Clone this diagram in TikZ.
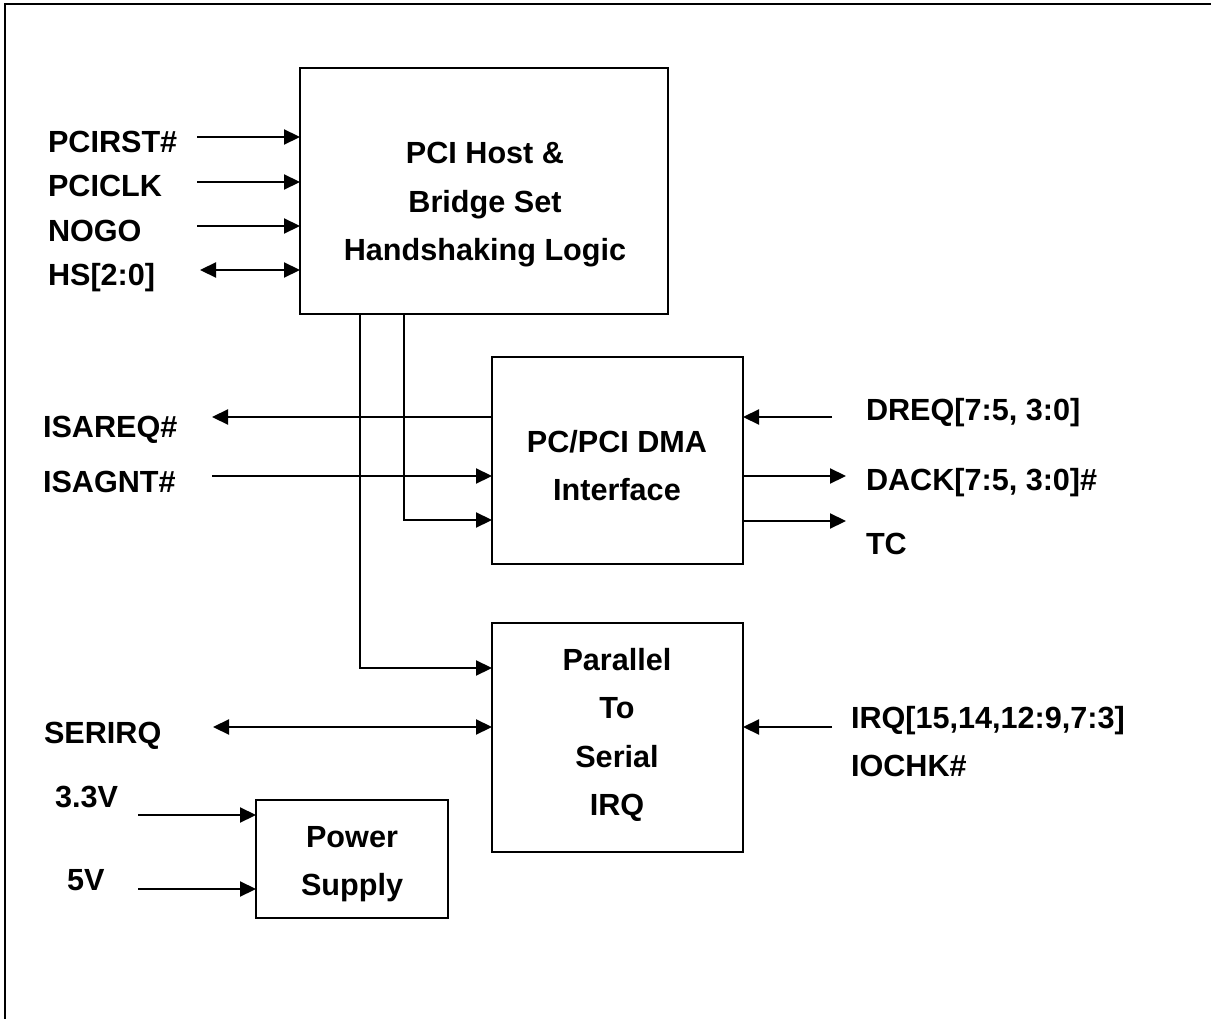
\documentclass[tikz,border=0pt]{standalone}
\usepackage{fontspec}
\setmainfont{Liberation Sans}
\usetikzlibrary{arrows.meta}
\begin{document}
\begin{tikzpicture}[x=1pt,y=-1pt,
  every node/.style={font=\fontsize{30.6}{36}\selectfont\bfseries, inner sep=0pt, outer sep=0pt},
  blk/.style={draw, line width=2.2pt, anchor=north west},
  sig/.style={line width=2.2pt},
  arr/.style={sig, -{Triangle[length=16pt,width=15pt]}},
  darr/.style={sig, {Triangle[length=16pt,width=15pt]}-{Triangle[length=16pt,width=15pt]}},
  lbl/.style={anchor=base west},
  txt/.style={anchor=base}]
\useasboundingbox (0,0) rectangle (1211,1019);
% frame
\draw[line width=2.6pt] (1211,4) -- (5,4) -- (5,1019);
% blocks
\node[blk, minimum width=368pt, minimum height=246pt] (b1) at (300,68) {};
\node[blk, minimum width=251pt, minimum height=207pt] (b2) at (492,357) {};
\node[blk, minimum width=251pt, minimum height=229pt] (b3) at (492,623) {};
\node[blk, minimum width=192pt, minimum height=118pt] (b4) at (256,800) {};
% block texts
\node[txt] (t11) at (485,164) {PCI Host \&};
\node[txt] (t12) at (485,213) {Bridge Set};
\node[txt] (t13) at (485,261) {Handshaking Logic};
\node[txt] (t21) at (617,452) {PC/PCI DMA};
\node[txt] (t22) at (617,500) {Interface};
\node[txt] (t31) at (617,670) {Parallel};
\node[txt] (t32) at (617,718) {To};
\node[txt] (t33) at (617,767) {Serial};
\node[txt] (t34) at (617,815) {IRQ};
\node[txt] (t41) at (352,847) {Power};
\node[txt] (t42) at (352,895) {Supply};
% left labels
\node[lbl] (l1) at (48,153) {PCIRST\#};
\node[lbl] (l2) at (48,197) {PCICLK};
\node[lbl] (l3) at (48,242) {NOGO};
\node[lbl] (l4) at (48,286) {HS[2:0]};
\node[lbl] (l5) at (43,437) {ISAREQ\#};
\node[lbl] (l6) at (43,492) {ISAGNT\#};
\node[lbl] (l7) at (44,743) {SERIRQ};
\node[lbl] (l8) at (55,807) {3.3V};
\node[lbl] (l9) at (67,890) {5V};
% right labels
\node[lbl] (r1) at (866,420) {DREQ[7:5, 3:0]};
\node[lbl] (r2) at (866,490) {DACK[7:5, 3:0]\#};
\node[lbl] (r3) at (866,554) {TC};
\node[lbl] (r4) at (851,728) {IRQ[15,14,12:9,7:3]};
\node[lbl] (r5) at (851,776) {IOCHK\#};
% free ends
\coordinate (c1) at (197,137);
\coordinate (c2) at (197,182);
\coordinate (c3) at (197,226);
\coordinate (c4) at (200,270);
\coordinate (c5) at (212,417);
\coordinate (c6) at (212,476);
\coordinate (c7) at (213,727);
\coordinate (c8) at (138,815);
\coordinate (c9) at (138,889);
\coordinate (d1) at (832,417);
\coordinate (d2) at (846,476);
\coordinate (d3) at (846,521);
\coordinate (d4) at (832,727);
% connectors
\draw[arr] (c1) -- (c1 -| b1.west);
\draw[arr] (c2) -- (c2 -| b1.west);
\draw[arr] (c3) -- (c3 -| b1.west);
\draw[darr] (c4) -- (c4 -| b1.west);
\draw[arr] (c5 -| b2.west) -- (c5);
\draw[arr] (c6) -- (c6 -| b2.west);
\draw[darr] (c7) -- (c7 -| b3.west);
\draw[arr] (c8) -- (c8 -| b4.west);
\draw[arr] (c9) -- (c9 -| b4.west);
\draw[arr] (d1) -- (d1 -| b2.east);
\draw[arr] (d2 -| b2.east) -- (d2);
\draw[arr] (d3 -| b2.east) -- (d3);
\draw[arr] (d4) -- (d4 -| b3.east);
\draw[arr] (b1.south -| 404,0) |- (b2.west |- 0,520);
\draw[arr] (b1.south -| 360,0) |- (b3.west |- 0,668);
\end{tikzpicture}
\end{document}
